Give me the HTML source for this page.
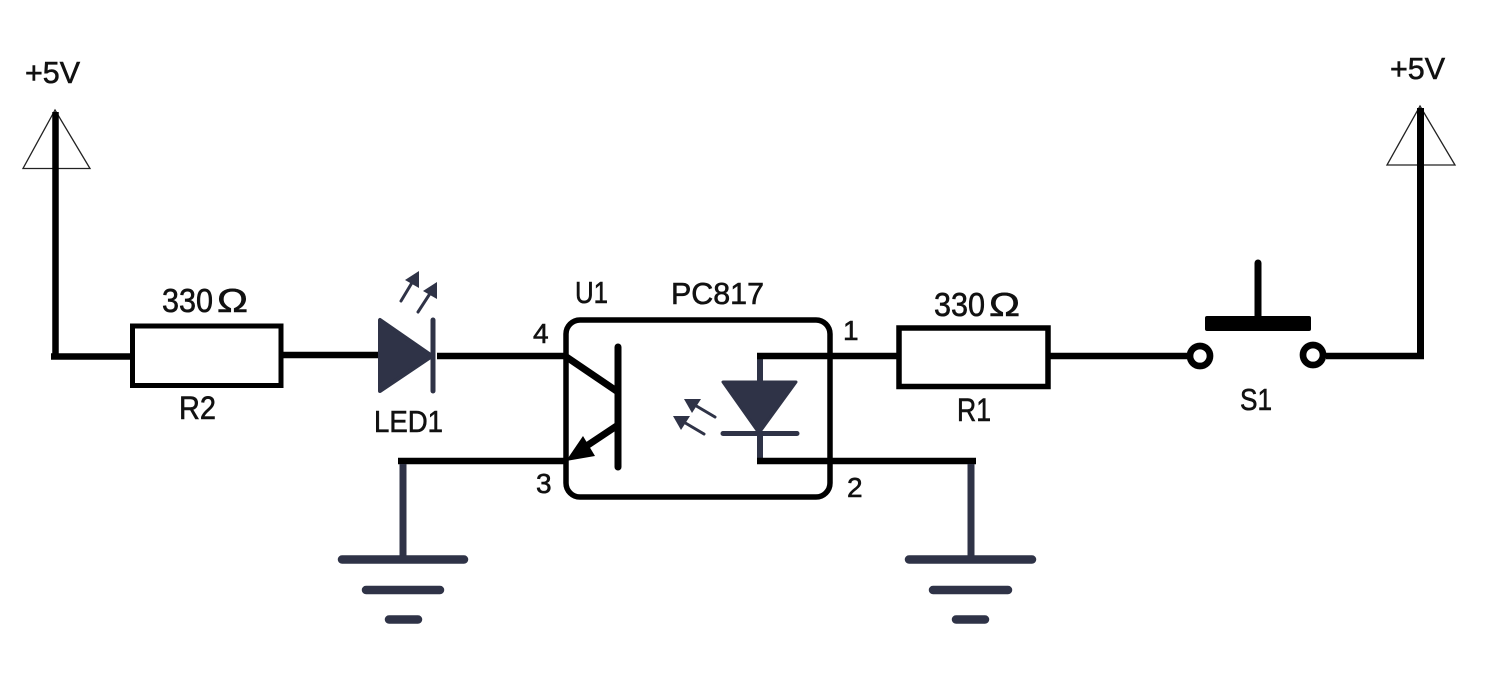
<!DOCTYPE html>
<html>
<head>
<meta charset="utf-8">
<style>
html,body{margin:0;padding:0;background:#fff;}
svg{display:block;}
text{font-family:"Liberation Sans",sans-serif;fill:#111;stroke:#111;stroke-width:0.6px;font-size:31px;}
</style>
</head>
<body>
<svg width="1498" height="689" viewBox="0 0 1498 689" xmlns="http://www.w3.org/2000/svg">
<rect width="1498" height="689" fill="#fff"/>

<!-- +5V left -->
<path d="M55 110 L90 168.5 L23 168.5 Z" fill="none" stroke="#222" stroke-width="1.3"/>
<path d="M55.5 112 V356" stroke="#000" stroke-width="6.5" fill="none"/>
<path d="M51 356.5 H131" stroke="#000" stroke-width="6.5" fill="none"/>

<!-- R2 -->
<rect x="132.5" y="326" width="148.5" height="59.5" fill="#fff" stroke="#000" stroke-width="5"/>
<path d="M283 355 H378" stroke="#000" stroke-width="6.5" fill="none"/>

<!-- LED1 -->
<path d="M380 320 L380 391 L432 356 Z" fill="#2f3347" stroke="#2f3347" stroke-width="4" stroke-linejoin="round"/>
<path d="M433 320 V391" stroke="#2f3347" stroke-width="5" stroke-linecap="round" fill="none"/>
<path d="M437 356 H566" stroke="#000" stroke-width="6.5" fill="none"/>
<path d="M401 301 L413 281" stroke="#2f3347" stroke-width="3" stroke-linecap="round" fill="none"/>
<path d="M419 271 L419 288 L405 280 Z" fill="#2f3347"/>
<path d="M418 312 L431 292" stroke="#2f3347" stroke-width="3" stroke-linecap="round" fill="none"/>
<path d="M437 282 L437 299 L423 291 Z" fill="#2f3347"/>

<!-- U1 box -->
<rect x="566" y="320" width="264" height="177" rx="14" ry="14" fill="none" stroke="#000" stroke-width="5.5"/>

<!-- transistor -->
<path d="M618 347 V467" stroke="#000" stroke-width="7" stroke-linecap="round" fill="none"/>
<path d="M565 356 L618 392" stroke="#000" stroke-width="7" fill="none"/>
<path d="M618 425 L582 449" stroke="#000" stroke-width="7" fill="none"/>
<path d="M566 461 L583 436 L595 456 Z" fill="#000"/>
<path d="M398 461 H568" stroke="#000" stroke-width="6.5" fill="none"/>

<!-- ground left -->
<path d="M403 464 V558" stroke="#2f3347" stroke-width="7" fill="none"/>
<path d="M342 559.5 H464 M366 590 H440 M389 619.5 H418" stroke="#2f3347" stroke-width="8.5" stroke-linecap="round" fill="none"/>

<!-- photodiode -->
<path d="M760 356 V382" stroke="#2f3347" stroke-width="6" fill="none"/>
<path d="M723 382 L796 382 L759 433 Z" fill="#2f3347" stroke="#2f3347" stroke-width="3" stroke-linejoin="round"/>
<path d="M723 433.5 H797" stroke="#2f3347" stroke-width="5" stroke-linecap="round" fill="none"/>
<path d="M760 433 V461" stroke="#2f3347" stroke-width="6" fill="none"/>
<path d="M757 356 H898" stroke="#000" stroke-width="6.5" fill="none"/>
<path d="M757 461 H976" stroke="#000" stroke-width="6.5" fill="none"/>
<path d="M715 417 L693 404" stroke="#2f3347" stroke-width="3" stroke-linecap="round" fill="none"/>
<path d="M684 399 L701 399 L692 413 Z" fill="#2f3347"/>
<path d="M704 434 L682 421" stroke="#2f3347" stroke-width="3" stroke-linecap="round" fill="none"/>
<path d="M673 416 L690 416 L681 430 Z" fill="#2f3347"/>

<!-- ground right -->
<path d="M971 464 V558" stroke="#2f3347" stroke-width="7" fill="none"/>
<path d="M909 559.5 H1032 M933 590 H1008 M956 619.5 H985" stroke="#2f3347" stroke-width="8.5" stroke-linecap="round" fill="none"/>

<!-- R1 -->
<rect x="899" y="328" width="149" height="58.5" fill="#fff" stroke="#000" stroke-width="5.5"/>
<path d="M1050 356 H1190" stroke="#000" stroke-width="6.5" fill="none"/>

<!-- S1 -->
<path d="M1258 263 V320" stroke="#000" stroke-width="7" stroke-linecap="round" fill="none"/>
<rect x="1205" y="316" width="106" height="15" rx="2" fill="#000"/>
<circle cx="1200" cy="356" r="10" fill="#fff" stroke="#000" stroke-width="6.7"/>
<circle cx="1313" cy="355" r="10" fill="#fff" stroke="#000" stroke-width="6.7"/>
<path d="M1326 356 H1424" stroke="#000" stroke-width="6.5" fill="none"/>

<!-- +5V right -->
<path d="M1420 106 L1455 165 L1387 165 Z" fill="none" stroke="#222" stroke-width="1.3"/>
<path d="M1420.5 108 V359" stroke="#000" stroke-width="7" fill="none"/>

<!-- labels -->
<text x="25" y="83" textLength="55" lengthAdjust="spacingAndGlyphs">+5V</text>
<text x="1390" y="79" textLength="55" lengthAdjust="spacingAndGlyphs">+5V</text>
<text x="162" y="312" style="font-size:33px" textLength="51" lengthAdjust="spacingAndGlyphs">330</text>
<text x="217" y="312" style="font-size:33px" textLength="31" lengthAdjust="spacingAndGlyphs">Ω</text>
<text x="934" y="316" style="font-size:33px" textLength="51" lengthAdjust="spacingAndGlyphs">330</text>
<text x="989" y="316" style="font-size:33px" textLength="31" lengthAdjust="spacingAndGlyphs">Ω</text>
<text x="179" y="419" style="font-size:32px" textLength="37" lengthAdjust="spacingAndGlyphs">R2</text>
<text x="957" y="421" style="font-size:32px" textLength="34" lengthAdjust="spacingAndGlyphs">R1</text>
<text x="374" y="432" style="font-size:31px" textLength="69" lengthAdjust="spacingAndGlyphs">LED1</text>
<text x="1240" y="410" textLength="32" lengthAdjust="spacingAndGlyphs">S1</text>
<text x="575" y="303" textLength="33" lengthAdjust="spacingAndGlyphs">U1</text>
<text x="671" y="304" textLength="93" lengthAdjust="spacingAndGlyphs">PC817</text>
<text x="533" y="343" style="font-size:28px">4</text>
<text x="536" y="493" style="font-size:28px">3</text>
<text x="843" y="340" style="font-size:28px">1</text>
<text x="847" y="497" style="font-size:28px">2</text>
</svg>
</body>
</html>
